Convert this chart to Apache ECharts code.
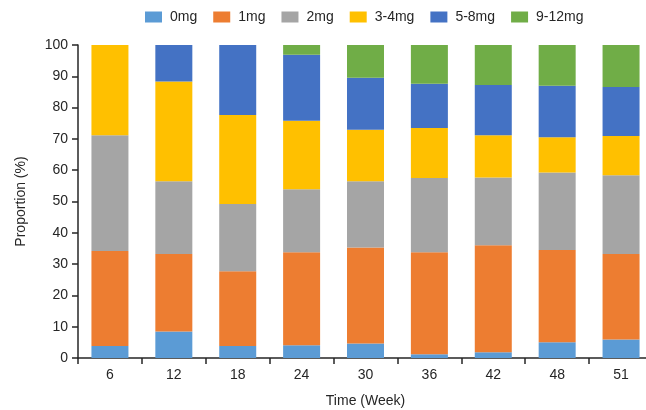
<!DOCTYPE html>
<html>
<head>
<meta charset="utf-8">
<script src="https://cdn.jsdelivr.net/npm/echarts@6/dist/echarts.min.js"></script>
<style>html,body{margin:0;padding:0;background:#fff}#c{width:646px;height:410px}</style>
</head>
<body>
<div id="c"></div>
<script>
var categories = ['6','12','18','24','30','36','42','48','51'];
var seriesNames = ['0mg','1mg','2mg','3-4mg','5-8mg','9-12mg'];
var v0mg   = [3.8, 8.5, 3.8, 4.1, 4.6, 1.2, 1.8, 5.0, 5.9];
var v1mg   = [30.4, 24.7, 23.9, 29.7, 30.7, 32.6, 34.2, 29.5, 27.3];
var v2mg   = [37.0, 23.3, 21.5, 20.1, 21.2, 23.7, 21.7, 24.8, 25.2];
var v34mg  = [28.8, 31.8, 28.4, 21.9, 16.4, 16.0, 13.5, 11.2, 12.5];
var v58mg  = [0, 11.7, 22.4, 21.1, 16.6, 14.1, 16.0, 16.5, 15.7];
var v912mg = [0, 0, 0, 3.1, 10.5, 12.4, 12.8, 13.0, 13.4];
var yTicks = [0,10,20,30,40,50,60,70,80,90,100];

var colors = ['#5B9BD5','#ED7D31','#A5A5A5','#FFC000','#4472C4','#70AD47'];
var allValues = [v0mg, v1mg, v2mg, v34mg, v58mg, v912mg];
var font = 'Liberation Sans, Arial, sans-serif';
var axisColor = '#262626';

var chart = echarts.init(document.getElementById('c'), null, {renderer:'canvas'});
var series = seriesNames.map(function(n, i){
  return {
    name: n, type: 'bar', stack: 'total',
    data: allValues[i],
    barWidth: 37,
    itemStyle: {color: colors[i]},
    emphasis: {disabled: true}
  };
});
chart.setOption({
  animation: false,
  textStyle: {fontFamily: font},
  color: colors,
  legend: {
    top: 5, left: 140,
    itemWidth: 17, itemHeight: 11, itemGap: 16,
    icon: 'rect',
    textStyle: {fontFamily: font, fontSize: 14, color: '#262626', padding: [0,0,0,3]},
    data: seriesNames
  },
  grid: {left: 78, width: 575, top: 45, height: 313, containLabel: false, outerBoundsMode: 'none'},
  xAxis: {
    type: 'category', data: categories,
    axisLine: {lineStyle: {color: axisColor, width: 1.5}},
    axisTick: {show: true, length: 6, lineStyle: {color: axisColor, width: 1.5}},
    axisLabel: {fontFamily: font, fontSize: 14, color: '#262626', margin: 10},
    name: 'Time (Week)', nameLocation: 'middle', nameGap: 36,
    nameTextStyle: {fontFamily: font, fontSize: 14, color: '#262626'}
  },
  yAxis: {
    type: 'value', min: yTicks[0], max: yTicks[yTicks.length-1], interval: 10,
    axisLine: {show: true, lineStyle: {color: axisColor, width: 1.5}},
    axisTick: {show: true, length: 6, lineStyle: {color: axisColor, width: 1.5}},
    splitLine: {show: false},
    axisLabel: {fontFamily: font, fontSize: 14, color: '#262626', margin: 10},
    name: 'Proportion (%)', nameLocation: 'middle', nameGap: 50, nameRotate: 90,
    nameTextStyle: {fontFamily: font, fontSize: 14, color: '#262626'}
  },
  series: series
});
</script>
</body>
</html>
